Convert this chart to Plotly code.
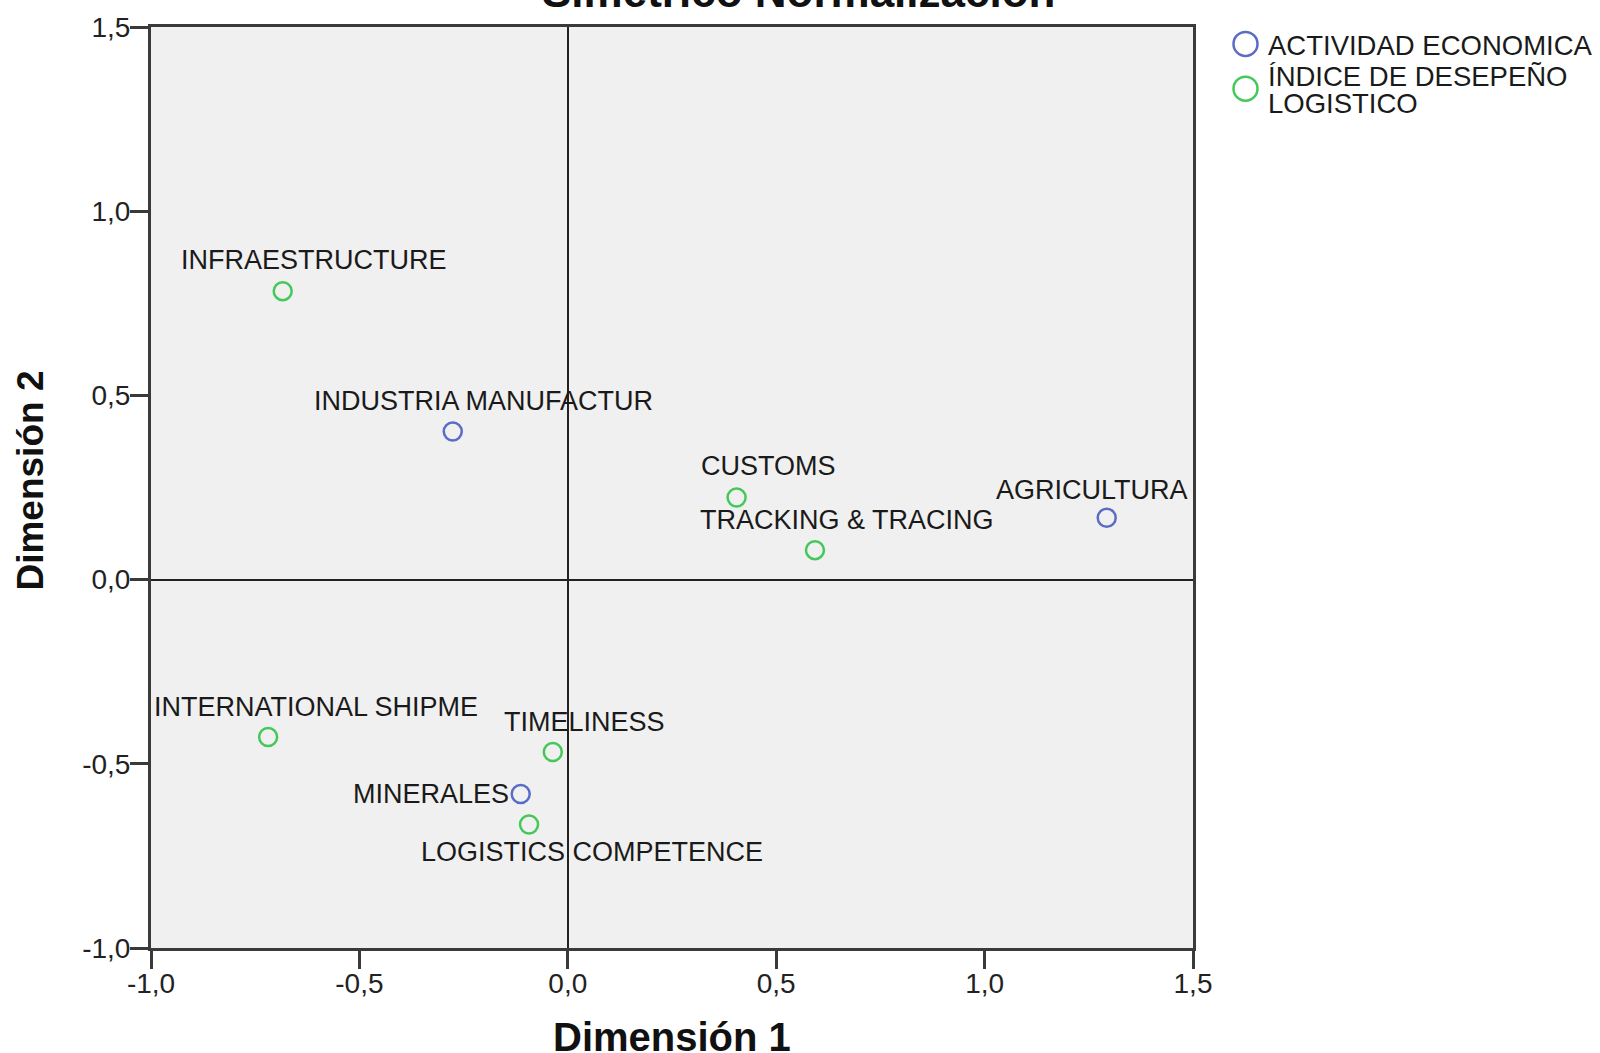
import plotly.graph_objects as go

# ---- data ----
act_labels = ["INDUSTRIA MANUFACTUR", "AGRICULTURA", "MINERALES"]
act_x = [-0.276, 1.293, -0.113]
act_y = [0.402, 0.168, -0.582]

ldi_labels = ["INFRAESTRUCTURE", "CUSTOMS", "TRACKING & TRACING",
              "INTERNATIONAL SHIPME", "TIMELINESS", "LOGISTICS COMPETENCE"]
ldi_x = [-0.684, 0.405, 0.593, -0.719, -0.036, -0.093]
ldi_y = [0.783, 0.223, 0.080, -0.427, -0.468, -0.665]

tick_vals = [-1.0, -0.5, 0.0, 0.5, 1.0, 1.5]
tick_text = ["-1,0", "-0,5", "0,0", "0,5", "1,0", "1,5"]

series_names = ["ACTIVIDAD ECONOMICA", "ÍNDICE DE DESEPEÑO", "LOGISTICO"]
title_text = "Simétrico Normalización"

# ---- styling ----
BLUE = "#5a6cc6"
GREEN = "#45c85a"
AX = "#3a3a3a"
FONT = "Liberation Sans, Arial, sans-serif"

W, H = 1600, 1053
L, R, T, B = 151, 1193, 22, 948

# label offsets (xshift px, yshift px, xanchor)
offsets = {
    "INDUSTRIA MANUFACTUR": (31, 31, "center"),
    "AGRICULTURA": (-15, 28, "center"),
    "MINERALES": (-10, 0, "right"),
    "INFRAESTRUCTURE": (31, 31, "center"),
    "CUSTOMS": (32, 31, "center"),
    "TRACKING & TRACING": (32, 30, "center"),
    "INTERNATIONAL SHIPME": (48, 30, "center"),
    "TIMELINESS": (32, 30, "center"),
    "LOGISTICS COMPETENCE": (63, -27, "center"),
}

fig = go.Figure()
fig.add_trace(go.Scatter(x=act_x, y=act_y, mode="markers", name=series_names[0],
                         marker=dict(symbol="circle-open", size=18, color=BLUE,
                                     line=dict(width=2.5, color=BLUE)),
                         showlegend=False, cliponaxis=False))
fig.add_trace(go.Scatter(x=ldi_x, y=ldi_y, mode="markers", name=series_names[1],
                         marker=dict(symbol="circle-open", size=18, color=GREEN,
                                     line=dict(width=2.5, color=GREEN)),
                         showlegend=False, cliponaxis=False))

annotations = []
for labs, xs, ys in [(act_labels, act_x, act_y), (ldi_labels, ldi_x, ldi_y)]:
    for lab, x, y in zip(labs, xs, ys):
        dx, dy, xa = offsets[lab]
        annotations.append(dict(x=x, y=y, xref="x", yref="y", text=lab, showarrow=False,
                                xanchor=xa, yanchor="middle", xshift=dx, yshift=dy,
                                font=dict(family=FONT, size=27, color="#1a1a1a")))

pw = R - L
ph = B - T

def px_x(p):
    return (p - L) / pw

def px_y(p):
    return (B - p) / ph

# axis titles
annotations.append(dict(x=px_x(672), y=px_y(1037), xref="paper", yref="paper",
                        text="<b>Dimensión 1</b>", showarrow=False,
                        xanchor="center", yanchor="middle",
                        font=dict(family=FONT, size=40, color="#111")))
annotations.append(dict(x=px_x(31), y=px_y(478), xref="paper", yref="paper",
                        text="<b>Dimensión 2</b>", showarrow=False, textangle=-90,
                        xanchor="center", yanchor="middle",
                        font=dict(family=FONT, size=37, color="#111")))
# cut-off title
annotations.append(dict(x=px_x(798), y=px_y(-14), xref="paper", yref="paper",
                        text="<b>" + title_text + "</b>", showarrow=False,
                        xanchor="center", yanchor="middle",
                        font=dict(family=FONT, size=44, color="#111")))

# manual legend
shapes = []
leg = [(series_names[0], BLUE, 39, [(series_names[0], 41)]),
       (series_names[1], GREEN, 84, [(series_names[1], 72), (series_names[2], 99)])]
for name, col, cy, lines in leg:
    shapes.append(dict(type="circle", xref="paper", yref="paper",
                       xsizemode="pixel", ysizemode="pixel",
                       xanchor=px_x(1245.5), yanchor=px_y(cy),
                       x0=-12, x1=12, y0=-12, y1=12,
                       line=dict(color=col, width=2.5), fillcolor="rgba(0,0,0,0)"))
    for txt, ty in lines:
        annotations.append(dict(x=px_x(1266), y=px_y(ty), xref="paper", yref="paper",
                                text=txt, showarrow=False, xanchor="left", yanchor="middle",
                                font=dict(family=FONT, size=27.5, color="#1a1a1a")))

axis_common = dict(range=[-1.0, 1.5], tickvals=tick_vals, ticktext=tick_text,
                   showgrid=False, showline=True, linecolor=AX, linewidth=3, mirror=True,
                   ticks="outside", ticklen=18, tickwidth=3, tickcolor=AX,
                   tickfont=dict(family=FONT, size=28, color="#222"),
                   zeroline=True, zerolinecolor="#222", zerolinewidth=2)

fig.update_layout(
    width=W, height=H,
    margin=dict(l=L, r=W - R, t=T, b=H - B),
    paper_bgcolor="white", plot_bgcolor="#f0f0f0",
    xaxis=dict(**axis_common, ticklabelstandoff=-10),
    yaxis=dict(**axis_common, ticklabelstandoff=-6),
    annotations=annotations, shapes=shapes,
    showlegend=False,
)

fig.write_html("out.html", config={"displayModeBar": False},
               post_script="document.body.style.margin='0';document.body.style.overflow='hidden';")
